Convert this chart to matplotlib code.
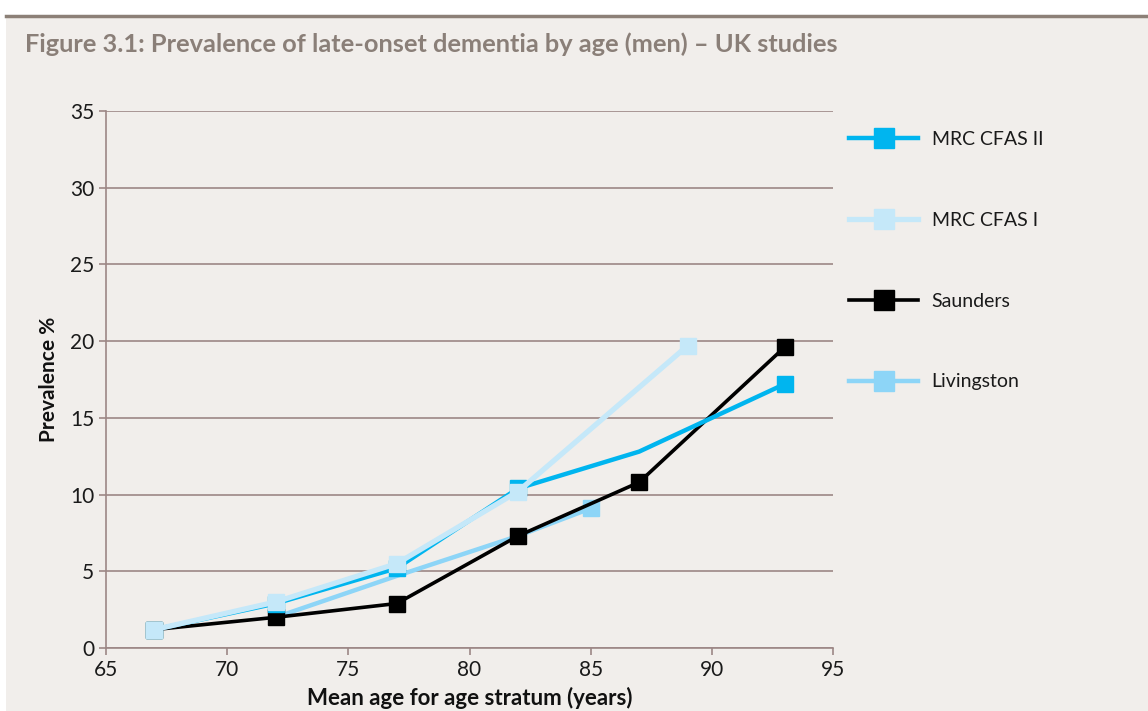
import matplotlib
matplotlib.use("Agg")
import matplotlib.pyplot as plt
from matplotlib.patches import Rectangle
from matplotlib.lines import Line2D

# ---- data ----
ages_cfas2 = [67, 72, 77, 82, 87, 93]
prev_cfas2 = [1.2, 2.9, 5.2, 10.4, 12.8, 17.2]

ages_cfas1 = [67, 72, 77, 82, 89]
prev_cfas1 = [1.2, 3.0, 5.5, 10.2, 19.7]

ages_saunders = [67, 72, 77, 82, 87, 93]
prev_saunders = [1.2, 2.0, 2.9, 7.3, 10.8, 19.6]

ages_livingston = [72, 77, 82, 85]
prev_livingston = [2.0, 4.7, 7.3, 9.1]

series_names = ["MRC CFAS II", "MRC CFAS I", "Saunders", "Livingston"]
x_ticks = [65, 70, 75, 80, 85, 90, 95]
y_ticks = [0, 5, 10, 15, 20, 25, 30, 35]

# ---- style ----
BG = "#f1eeeb"
GRID = "#9c8786"
TITLE_C = "#8a7f78"
C_CFAS2 = "#00b5ef"
C_CFAS1 = "#c5e8f9"
C_SAUND = "#000000"
C_LIV = "#8dd5f7"
FONT = "Lato"

W, H = 1148, 711
fig = plt.figure(figsize=(W / 100, H / 100), dpi=100, facecolor="white")

# beige panel and top rule
fig.patches.append(Rectangle((6 / W, 0), 1 - 6 / W, 1 - 17 / H, transform=fig.transFigure,
                             facecolor=BG, edgecolor="none", zorder=-10))
fig.add_artist(Line2D([6 / W, 1], [1 - 16 / H, 1 - 16 / H], transform=fig.transFigure,
                      color="#8c8077", lw=2.5))

fig.text(25 / W, 1 - 44 / H, "Figure 3.1: Prevalence of late-onset dementia by age (men) \u2013 UK studies",
         fontsize=18.3, fontweight="bold", color=TITLE_C, family=FONT, va="center", ha="left")

ax = fig.add_axes([106 / W, 1 - 648 / H, (833 - 106) / W, (648 - 111) / H])
ax.set_facecolor(BG)
ax.patch.set_alpha(0)
ax.set_xlim(65, 95)
ax.set_ylim(0, 35)
ax.set_xticks(x_ticks)
ax.set_yticks(y_ticks)
ax.yaxis.grid(True, color=GRID, lw=1.2)
ax.set_axisbelow(True)
for s in ["top", "right"]:
    ax.spines[s].set_visible(False)
for s in ["left", "bottom"]:
    ax.spines[s].set_color(GRID)
    ax.spines[s].set_linewidth(1.2)
ax.tick_params(axis="both", colors=GRID, length=5, width=1.2, labelsize=15, labelcolor="#1a1a1a")
for lab in ax.get_xticklabels() + ax.get_yticklabels():
    lab.set_family(FONT)

ms = 11
ax.plot(ages_livingston, prev_livingston, color=C_LIV, lw=3.2, marker="s", ms=ms,
        markevery=[3], zorder=2, label=series_names[3])
ax.plot(ages_saunders, prev_saunders, color=C_SAUND, lw=2.6, marker="s", ms=ms,
        zorder=3, label=series_names[2])
ax.plot(ages_cfas2, prev_cfas2, color=C_CFAS2, lw=3.2, marker="s", ms=ms,
        markevery=[0, 1, 2, 3, 5], zorder=4, label=series_names[0])
ax.plot(ages_cfas1, prev_cfas1, color=C_CFAS1, lw=3.8, marker="s", ms=ms,
        zorder=5, label=series_names[1])

ax.set_xlabel("Mean age for age stratum (years)", fontsize=16, fontweight="bold",
              family=FONT, color="#111111", labelpad=5)
ax.set_ylabel("Prevalence %", fontsize=15, fontweight="bold", family=FONT,
              color="#111111", labelpad=8)

handles, labels = ax.get_legend_handles_labels()
order = [2, 3, 1, 0]
leg_handles = []
for i in order:
    h = handles[i]
    leg_handles.append(Line2D([], [], color=h.get_color(), lw=h.get_linewidth(), marker="s",
                              ms=14.5, mfc=h.get_color(), mec=h.get_color()))
leg = fig.legend(leg_handles, [labels[i] for i in order], loc="upper left",
                 bbox_to_anchor=(849 / W, 1 - 131 / H), frameon=False,
                 labelspacing=3.28, handlelength=3.55, handletextpad=0.7,
                 borderpad=0, borderaxespad=0, prop={"family": FONT, "size": 14})
for t in leg.get_texts():
    t.set_color("#1a1a1a")

fig.savefig("out.png", dpi=100, facecolor="white")
